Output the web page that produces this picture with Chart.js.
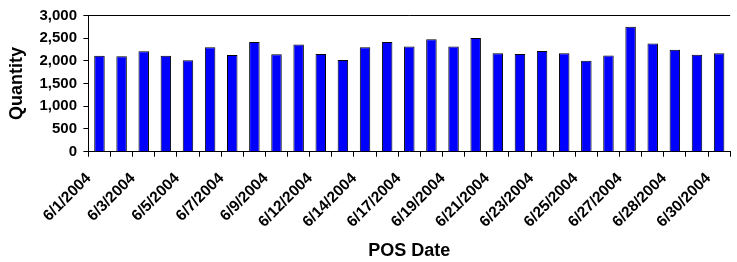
<!DOCTYPE html>
<html>
<head>
<meta charset="utf-8">
<script src="https://cdn.jsdelivr.net/npm/chart.js@4.4.1/dist/chart.umd.min.js"></script>
<style>
  html, body { margin: 0; padding: 0; background: #fff; overflow: hidden; width: 737px; height: 262px; }
  #wrap { width: 745px; height: 262px; }
</style>
</head>
<body>
<div id="wrap"><canvas id="c" width="745" height="262"></canvas></div>
<script>
const categories = [
  "6/1/2004","6/2/2004","6/3/2004","6/4/2004","6/5/2004","6/6/2004","6/7/2004","6/8/2004",
  "6/9/2004","6/11/2004","6/12/2004","6/13/2004","6/14/2004","6/16/2004","6/17/2004","6/18/2004",
  "6/19/2004","6/20/2004","6/21/2004","6/22/2004","6/23/2004","6/24/2004","6/25/2004","6/26/2004",
  "6/27/2004","6/27/2004","6/28/2004","6/29/2004","6/30/2004"
];
const quantity = [
  2110, 2100, 2210, 2110, 2015, 2300, 2130, 2415,
  2145, 2360, 2150, 2020, 2300, 2415, 2315, 2475,
  2315, 2505, 2165, 2150, 2215, 2165, 2000, 2115,
  2750, 2380, 2245, 2135, 2165
];
const yTicks = [0, 500, 1000, 1500, 2000, 2500, 3000];
const xTitle = "POS Date";
const yTitle = "Quantity";

const FONT = "'Liberation Sans', Arial, sans-serif";

const frame = {
  id: 'frame',
  afterDraw(chart) {
    const a = chart.chartArea, ctx = chart.ctx;
    ctx.save();
    ctx.strokeStyle = '#000';
    ctx.lineWidth = 1;
    ctx.beginPath();
    ctx.moveTo(a.left, Math.round(a.top) + 0.5);
    ctx.lineTo(a.right, Math.round(a.top) + 0.5);
    ctx.stroke();
    ctx.restore();
  }
};

new Chart(document.getElementById('c'), {
  type: 'bar',
  data: {
    labels: categories,
    datasets: [{
      data: quantity,
      backgroundColor: '#0000FF',
      borderColor: '#000000',
      borderWidth: 1,
      barPercentage: 0.474,
      categoryPercentage: 1.0
    }]
  },
  options: {
    responsive: false,
    animation: false,
    devicePixelRatio: 1,
    layout: { padding: { top: 12, right: 1.8, bottom: 0, left: 0 } },
    plugins: { legend: { display: false }, tooltip: { enabled: false } },
    scales: {
      x: {
        offset: true,
        afterFit(scale) { scale.height = 110.3; },
        grid: { display: true, offset: true, drawOnChartArea: false, drawTicks: true, tickLength: 5, color: '#000', tickColor: '#000' },
        border: { display: true, color: '#000', width: 1 },
        ticks: {
          autoSkip: false,
          maxRotation: 45, minRotation: 45,
          padding: 12.7,
          labelOffset: -10.8,
          color: '#000',
          font: { family: FONT, size: 15.5, weight: 'bold' },
          callback(v, i) { return i % 2 === 0 ? categories[i] : ''; }
        },
        title: { display: true, text: xTitle, color: '#000', font: { family: FONT, size: 18, weight: 'bold' }, padding: { top: 0, bottom: 0.5 } }
      },
      y: {
        min: 0, max: 3000,
        afterFit(scale) { scale.width = 88.4; },
        afterBuildTicks(scale) { scale.ticks = yTicks.map(v => ({ value: v })); },
        grid: { display: true, drawOnChartArea: false, drawTicks: true, tickLength: 5, color: '#000', tickColor: '#000' },
        border: { display: true, color: '#000', width: 1 },
        ticks: {
          padding: 6.4,
          color: '#000',
          font: { family: FONT, size: 15, weight: 'bold' },
          callback(v) { return v.toLocaleString('en-US'); }
        },
        title: { display: true, text: yTitle, color: '#000', font: { family: FONT, size: 18, weight: 'bold' }, padding: { top: 5.8, bottom: 0 } }
      }
    }
  },
  plugins: [frame]
});
</script>
</body>
</html>
